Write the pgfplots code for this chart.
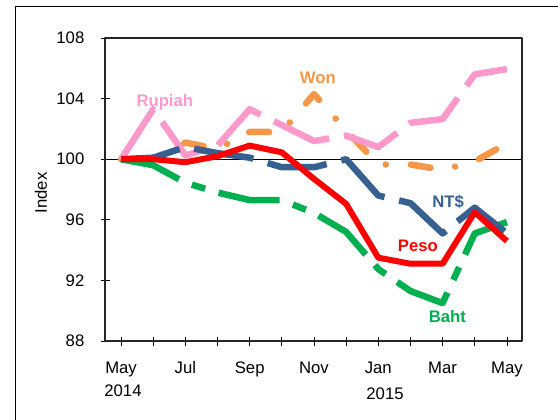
\documentclass[border=0pt]{standalone}
\usepackage{pgfplots}
\pgfplotsset{compat=1.18}
\usepackage{fontspec}
\setmainfont{Liberation Sans}
\definecolor{cpink}{HTML}{FF99CC}
\definecolor{corange}{HTML}{F79646}
\definecolor{cblue}{HTML}{376092}
\definecolor{cred}{HTML}{FF0000}
\definecolor{cgreen}{HTML}{00B050}
\begin{document}
\begin{tikzpicture}[x=1bp,y=1bp]
\path[use as bounding box] (0,0) rectangle (558,419);
\draw[line width=1bp] (15,-20) -- (15,412) -- (600,412);
\begin{axis}[
  at={(105bp,78bp)}, anchor=south west,
  width=417bp, height=303bp, scale only axis,
  xmin=-0.5, xmax=12.47, ymin=88, ymax=108,
  xtick={0,...,12},
  xticklabels={May,,Jul,,Sep,,Nov,,Jan,,Mar,,May},
  ytick={88,92,...,108},
  xtick pos=left, ytick pos=left,
  tick align=center, major tick length=9bp,
  tick style={black, line width=0.8bp},
  axis line style={line width=1.2bp, black!85},
  font=\fontsize{16.7bp}{20bp}\selectfont,
  /pgf/number format/assume math mode=true,
  yticklabel style={anchor=east, inner sep=0pt, xshift=-16bp},
  xticklabel style={anchor=base, inner sep=0pt, yshift=-28.3bp},
  line join=round,
]
\draw[black, line width=1bp] (axis cs:-0.5,100) -- (axis cs:12.47,100);
% Won
\addplot[corange, line width=6.5bp, line cap=round, dash pattern=on 20bp off 25bp on 0.1bp off 25bp] coordinates {
(0,100) (1,99.65) (2,101.1) (3,100.67) (4,101.8) (5,101.8) (6,104.3) (7,101.9) (8,99.65) (9,99.65) (10,99.3) (11,99.85) (12,101.05)};
% Rupiah
\addplot[cpink, line width=6.5bp, dash pattern=on 60bp off 15bp] coordinates {
(0,100) (1,103.3) (2,100.25) (3,100.9) (4,103.3) (5,102.25) (6,101.2) (7,101.55) (8,100.8) (9,102.4) (10,102.65) (11,105.6) (12,105.95)};
% Baht
\addplot[cgreen, line width=6.5bp, dash pattern=on 62bp off 14bp on 14bp off 14bp] coordinates {
(0,100) (1,99.6) (2,98.45) (3,97.8) (4,97.3) (5,97.3) (6,96.45) (7,95.2) (8,92.75) (9,91.3) (10,90.5) (11,95.1) (12,95.85)};
% NT$
\addplot[cblue, line width=6.5bp, dash pattern=on 60bp off 15bp] coordinates {
(0,100) (1,100.1) (2,100.8) (3,100.4) (4,100.1) (5,99.47) (6,99.47) (7,100.0) (8,97.6) (9,97.1) (10,95.1) (11,96.8) (12,95.1)};
% Peso
\addplot[cred, line width=6bp] coordinates {
(0,100) (1,100.0) (2,99.8) (3,100.2) (4,100.9) (5,100.45) (6,98.7) (7,97.05) (8,93.5) (9,93.1) (10,93.1) (11,96.5) (12,94.6)};
\node[anchor=base, text=cpink, font=\fontsize{16.7bp}{20bp}\selectfont\bfseries] at (axis cs:1.36,103.5) {Rupiah};
\node[anchor=base, text=corange, font=\fontsize{16.7bp}{20bp}\selectfont\bfseries] at (axis cs:6.12,105.0) {Won};
\node[anchor=base, text=cblue, font=\fontsize{16.7bp}{20bp}\selectfont\bfseries] at (axis cs:10.17,96.8) {NT\$};
\node[anchor=base, text=cred, font=\fontsize{16.7bp}{20bp}\selectfont\bfseries] at (axis cs:9.23,93.88) {Peso};
\node[anchor=base, text=cgreen, font=\fontsize{16.7bp}{20bp}\selectfont\bfseries] at (axis cs:10.15,89.23) {Baht};
\end{axis}
\node[rotate=90, font=\fontsize{16.7bp}{20bp}\selectfont] at (41,226) {Index};
\node[anchor=base, font=\fontsize{16.7bp}{20bp}\selectfont] at (123,23) {2014};
\node[anchor=base, font=\fontsize{16.7bp}{20bp}\selectfont] at (385,19.7) {2015};
\end{tikzpicture}
\end{document}
